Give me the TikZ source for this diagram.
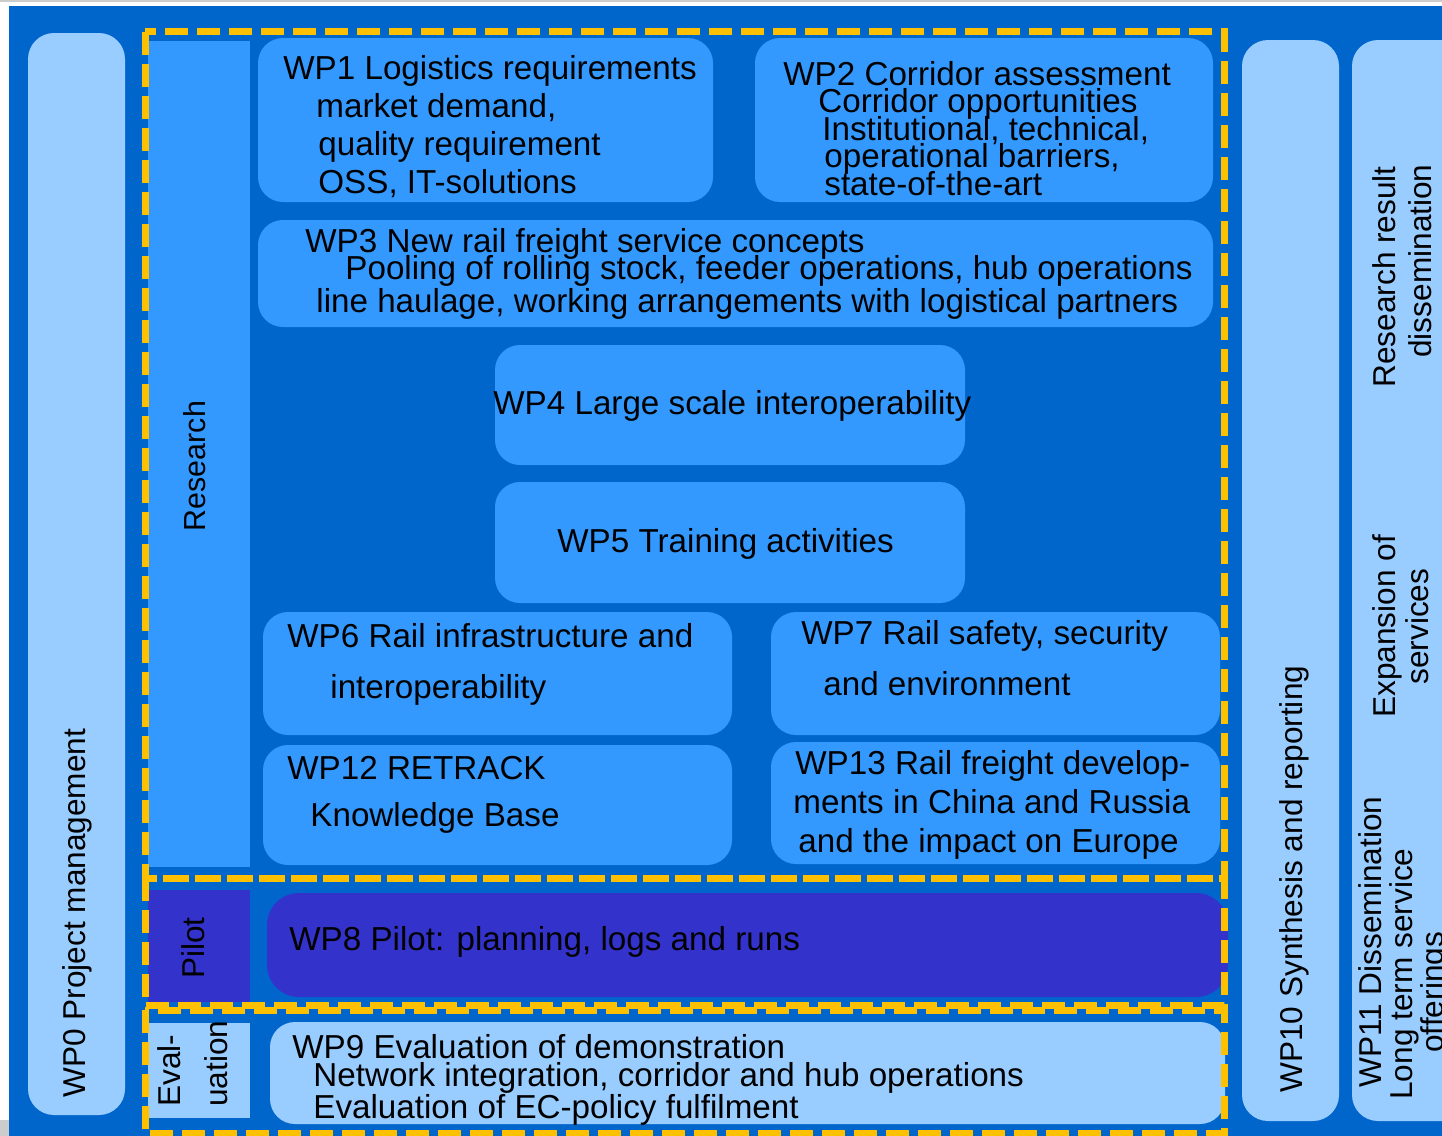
\documentclass[tikz,border=0pt]{standalone}
\usepackage{fontspec}
\setmainfont{Liberation Sans}
\lineskiplimit=-50pt
\definecolor{bgblue}{HTML}{0066CC}
\definecolor{midblue}{HTML}{3399FF}
\definecolor{paleblue}{HTML}{99CCFF}
\definecolor{pilotblue}{HTML}{3333CC}
\definecolor{dashorange}{HTML}{FFC000}
\tikzset{
  wpbox/.style={fill=midblue,rounded corners=12.5pt},
  sidebar/.style={fill=paleblue,rounded corners=13pt},
  wpframe/.style={draw=dashorange,line width=3.5pt,dash pattern=on 11.5pt off 4.5pt},
  wptext/.style={inner sep=0pt,align=left,anchor=north west,font=\fontsize{16.6}{#1}\selectfont},
  wptext/.default=19,
  vtext/.style={inner sep=0pt,align=left,rotate=90,font=\fontsize{15.8}{#1}\selectfont},
  vtext/.default=19,
}

\begin{document}
\begin{tikzpicture}[x=0.5pt,y=-0.5pt]
  \useasboundingbox (0,0) rectangle (1442,1136);
  \clip (0,0) rectangle (1442,1136);
  % page background
  \fill[white] (0,0) rectangle (1442,1136);
  \fill[gray!40] (0,0) rectangle (1442,2);
  \fill[bgblue] (9,6) rectangle (1442,1136);
  \fill[gray!40] (0,1120) rectangle (9,1136);

  % side columns
  \foreach \xa/\xb/\ya/\yb in {28/125/33/1115,1242/1339/40/1121,1352/1500/40/1121}
  {
    \fill[sidebar] (\xa,\ya) rectangle (\xb,\yb);
  }

  % phase labels
  \fill[midblue] (148,41) rectangle (250,867);
  \fill[pilotblue] (148,890) rectangle (250,1002);
  \fill[paleblue] (148,1023) rectangle (250,1118);

  % work packages
  \fill[wpbox] (258,38) rectangle (713,202);
  \fill[wpbox] (755,38) rectangle (1213,202);
  \fill[wpbox] (258,220) rectangle (1213,327);
  \fill[wpbox] (495,345) rectangle (965,465);
  \fill[wpbox] (495,482) rectangle (965,603);
  \fill[wpbox] (263,612) rectangle (732,735);
  \fill[wpbox] (771,612) rectangle (1220,735);
  \fill[wpbox] (263,745) rectangle (732,865);
  \fill[wpbox] (771,742) rectangle (1220,864);
  \fill[wpbox,fill=pilotblue,rounded corners=16pt] (267,893) rectangle (1228,997);
  \fill[wpbox,fill=paleblue] (270,1022) rectangle (1225,1124);

  \node[wptext] (wp1) at (283,55) {WP1 Logistics requirements\\
    \hspace*{16.5pt}market demand,\\
    \hspace*{17.5pt}quality requirement\\
    \hspace*{17.5pt}OSS, IT-solutions};
  \node[wptext=13.75] (wp2) at (783,61) {WP2 Corridor assessment\\
    \hspace*{17.5pt}Corridor opportunities\\
    \hspace*{19.5pt}Institutional, technical,\\
    \hspace*{20.5pt}operational barriers,\\
    \hspace*{20.5pt}state-of-the-art};
  \node[wptext=13.5] (wp3) at (305,228) {WP3 New rail freight service concepts\\
    \hspace*{20pt}Pooling of rolling stock, feeder operations, hub operations\\[3pt]
    \hspace*{5.5pt}line haulage, working arrangements with logistical partners};
  \node[wptext] (wp4) at (493,390) {WP4 Large scale interoperability};
  \node[wptext] (wp5) at (557,528) {WP5 Training activities};
  \node[wptext=25.5] (wp6) at (287,623) {WP6 Rail infrastructure and\\
    \hspace*{21.5pt}interoperability};
  \node[wptext=25.5] (wp7) at (801,620) {WP7 Rail safety, security\\
    \hspace*{11pt}and environment};
  \node[wptext=23.5] (wp12) at (287,756) {WP12 RETRACK\\
    \hspace*{11.5pt}Knowledge Base};
  \node[wptext=19.5] (wp13) at (793,750) {\hspace*{1pt}WP13 Rail freight develop-\\
    ments in China and Russia\\
    \hspace*{2.5pt}and the impact on Europe};
  \node[wptext] (wp8) at (289,926) {WP8 Pilot: planning, logs and runs};
  \node[wptext=14] (wp9) at (292,1034) {WP9 Evaluation of demonstration\\
    \hspace*{10.5pt}Network integration, corridor and hub operations\\[2pt]
    \hspace*{10.5pt}Evaluation of EC-policy fulfilment};

  % vertical labels
  \node[vtext,anchor=base west] (wp0) at (85,1098) {WP0 Project management};
  \node[vtext,anchor=base,font=\fontsize{15.2}{19}\selectfont] (research) at (205,466) {Research};
  \node[vtext,anchor=base] (pilot) at (204,948) {Pilot};
  \node[vtext=23.5,anchor=north west] (eval) at (157,1107) {Eval-\\uation};
  \node[vtext,anchor=base west] (wp10) at (1302,1093) {WP10 Synthesis and reporting};
  \node[vtext=15.5,anchor=north west] (wp11) at (1358,1100) {\hspace*{6pt}WP11 Dissemination\\
    Long term service\\
    \hspace*{23.5pt}offerings};
  \node[vtext=16.5,anchor=north west] (expand) at (1372,718) {Expansion of\\
    \hspace*{16.5pt}services};
  \node[vtext=18,anchor=north west] (result) at (1372,388) {Research result\\
    \hspace*{15pt}dissemination};

  % phase frames
  \foreach \ya/\yb in {31.5/878,878/1005,1010/1133}
  {
    \draw[wpframe] (145,\ya) rectangle (1224,\yb);
  }
\end{tikzpicture}
\end{document}
